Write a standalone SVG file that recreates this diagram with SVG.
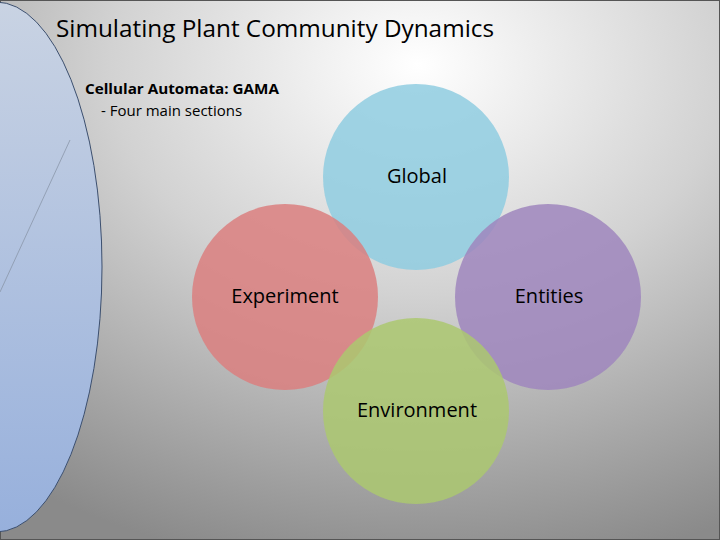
<svg xmlns="http://www.w3.org/2000/svg" width="720" height="540" viewBox="0 0 720 540">
<defs>
<radialGradient id="bg" cx="0.58" cy="0.12" r="0.95">
<stop offset="0" stop-color="#ffffff"/><stop offset="0.45" stop-color="#d2d2d2"/><stop offset="1" stop-color="#8a8a8a"/>
</radialGradient>
<linearGradient id="lb" x1="0" y1="0" x2="0" y2="1">
<stop offset="0" stop-color="#c9d3e3"/><stop offset="1" stop-color="#97b0dc"/>
</linearGradient>
</defs>
<style>
.c{stroke:none;opacity:0.85}
.t{font-family:"Open Sans","Liberation Sans",sans-serif;fill:#000}
</style>
<rect width="720" height="540" fill="url(#bg)" stroke="#555" stroke-width="2"/>
<ellipse cx="-4" cy="267" rx="106" ry="265" fill="url(#lb)" stroke="#3c4f6e" stroke-width="1"/>
<line x1="0" y1="292" x2="70" y2="140" stroke="#8a97aa" stroke-width="0.8"/>
<text class="t" x="56" y="37" font-size="24" textLength="438" lengthAdjust="spacingAndGlyphs">Simulating Plant Community Dynamics</text>
<text class="t" x="85" y="94" font-size="15" font-weight="bold" textLength="194" lengthAdjust="spacingAndGlyphs">Cellular Automata: GAMA</text>
<text class="t" x="101" y="116" font-size="15">- Four main sections</text>
<g id="global"><circle class="c" cx="416" cy="177" r="93" fill="#8fcde0"/></g>
<g id="experiment"><circle class="c" cx="285" cy="297" r="93" fill="#db7f7f"/></g>
<g id="entities"><circle class="c" cx="548" cy="297" r="93" fill="#9f86bd"/></g>
<g id="environment"><circle class="c" cx="416" cy="411" r="93" fill="#abc870"/></g>
<text class="t" x="417" y="183" font-size="20" text-anchor="middle">Global</text>
<text class="t" x="285" y="303" font-size="20" text-anchor="middle">Experiment</text>
<text class="t" x="549" y="303" font-size="20" text-anchor="middle">Entities</text>
<text class="t" x="417" y="417" font-size="20" text-anchor="middle">Environment</text>
</svg>
